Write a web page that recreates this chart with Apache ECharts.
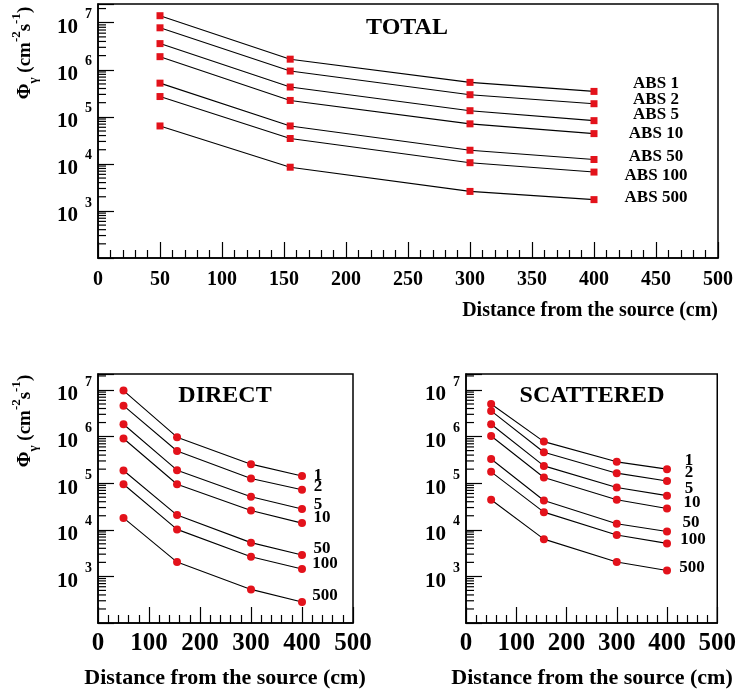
<!DOCTYPE html>
<html><head><meta charset="utf-8">
<script src="https://cdn.jsdelivr.net/npm/echarts@6/dist/echarts.min.js"></script>
<style>html,body{margin:0;padding:0;background:#fff}#c{width:739px;height:691px}</style>
</head><body><div id="c"></div>
<script>
// ---------- data ----------
const distance = [50, 155, 300, 400];
const absNames = ['ABS 1', 'ABS 2', 'ABS 5', 'ABS 10', 'ABS 50', 'ABS 100', 'ABS 500'];
const absShort = ['1', '2', '5', '10', '50', '100', '500'];

const totalABS1   = [1.41e7, 1.68e6, 5.4e5, 3.47e5];
const totalABS2   = [7.8e6, 9.4e5, 2.95e5, 1.9e5];
const totalABS5   = [3.6e6, 4.3e5, 1.35e5, 8.3e4];
const totalABS10  = [1.9e6, 2.23e5, 7.1e4, 4.4e4];
const totalABS50  = [5.2e5, 6.4e4, 1.95e4, 1.24e4];
const totalABS100 = [2.7e5, 3.46e4, 1.06e4, 6.7e3];
const totalABS500 = [6.4e4, 8.5e3, 2.6e3, 1.74e3];

const directABS1   = [9.7e6, 9.7e5, 2.56e5, 1.42e5];
const directABS2   = [4.6e6, 4.9e5, 1.26e5, 7.2e4];
const directABS5   = [1.84e6, 1.9e5, 5.1e4, 2.78e4];
const directABS10  = [9.1e5, 9.5e4, 2.6e4, 1.39e4];
const directABS50  = [1.87e5, 2.07e4, 5.3e3, 2.87e3];
const directABS100 = [9.5e4, 1.02e4, 2.64e3, 1.44e3];
const directABS500 = [1.8e4, 2.03e3, 526, 283];

const scatABS1   = [5.0e6, 7.8e5, 2.87e5, 2.0e5];
const scatABS2   = [3.55e6, 4.6e5, 1.64e5, 1.11e5];
const scatABS5   = [1.84e6, 2.35e5, 8.1e4, 5.4e4];
const scatABS10  = [1.03e6, 1.32e5, 4.4e4, 2.86e4];
const scatABS50  = [3.3e5, 4.25e4, 1.35e4, 9.2e3];
const scatABS100 = [1.75e5, 2.39e4, 7.7e3, 5.1e3];
const scatABS500 = [4.4e4, 6.3e3, 2.03e3, 1.34e3];

const xTicksTop = [0, 50, 100, 150, 200, 250, 300, 350, 400, 450, 500];
const xTicksBottom = [0, 100, 200, 300, 400, 500];

// ---------- layout / style ----------
const FONT = 'Liberation Serif';
const RED = '#e3121b';
const totals = [totalABS1, totalABS2, totalABS5, totalABS10, totalABS50, totalABS100, totalABS500];
const directs = [directABS1, directABS2, directABS5, directABS10, directABS50, directABS100, directABS500];
const scats = [scatABS1, scatABS2, scatABS5, scatABS10, scatABS50, scatABS100, scatABS500];

const topLabelShift = [[62,-8],[62,-4],[62,-6],[62,0],[62,-3],[62,4],[62,-2]];
const dirLabelShift = [[16,0],[16,-3],[16,-4],[20,-6],[20,-6],[23,-5],[23,-6]];
const scaLabelShift = [[22,-9],[22,-8],[22,-7],[25,-6],[24,-9],[26,-4],[25,-3]];

const grids = [
  {left: 98, top: 4, width: 620, height: 254, yMax: 2.5e7},
  {left: 98, top: 374, width: 255, height: 249, yMax: 2.2e7},
  {left: 466, top: 374, width: 252, height: 249, yMax: 2.2e7}
];
const yMin = 100;

function yLabel(v) {
  const l = Math.log10(v), e = Math.round(l);
  if (Math.abs(l - e) > 1e-6 || e < 3 || e > 7) return '';
  return '{b|10}{s|' + e + '}';
}

const xAxes = grids.map((g, i) => {
  const ticks = i === 0 ? xTicksTop : xTicksBottom;
  return {
    type: 'value', gridIndex: i, min: ticks[0], max: ticks[ticks.length - 1],
    interval: ticks[1] - ticks[0],
    axisLine: {show: true, lineStyle: {color: '#000', width: 1.5}},
    axisTick: {show: true, inside: true, length: 16, lineStyle: {color: '#000', width: 1.2}},
    minorTick: {show: true, splitNumber: 5, length: 8, lineStyle: {color: '#000', width: 1.2}},
    splitLine: {show: false},
    axisLabel: {
      color: '#000', fontFamily: FONT, fontWeight: 'bold',
      fontSize: i === 0 ? 20 : 25, margin: i === 0 ? 12 : 8
    }
  };
});

const yAxes = grids.map((g, i) => ({
  type: 'log', logBase: 10, gridIndex: i, min: yMin, max: g.yMax,
  axisLine: {show: true, lineStyle: {color: '#000', width: 1.5}},
  axisTick: {show: true, inside: true, length: 16, lineStyle: {color: '#000', width: 1.2}},
  minorTick: {show: false},
  splitLine: {show: false},
  axisLabel: {
    margin: 6, formatter: yLabel,
    rich: {
      b: {fontSize: 21, fontFamily: FONT, fontWeight: 'bold', color: '#000', lineHeight: 40, padding: [10, 0, 0, 0]},
      s: {fontSize: 14, fontFamily: FONT, fontWeight: 'bold', color: '#000', verticalAlign: 'top', lineHeight: 16, padding: [5, 0, 0, 7]}
    }
  }
}));

// log minor ticks (2..9 x 10^n) drawn through the y axis scale
function minorTickValues(max) {
  const out = [];
  for (let e = 2; e <= 7; e++) for (let m = 2; m <= 9; m++) {
    const v = m * Math.pow(10, e);
    if (v < max) out.push([0, v]);
  }
  return out;
}
const series = [];
grids.forEach((g, i) => {
  series.push({
    type: 'custom', xAxisIndex: i, yAxisIndex: i, silent: true, z: 1,
    data: minorTickValues(g.yMax),
    renderItem: (params, api) => {
      const p = api.coord([0, api.value(1)]);
      return {type: 'line', shape: {x1: p[0], y1: p[1], x2: p[0] + 8, y2: p[1]},
        style: {stroke: '#000', lineWidth: 1.2}};
    }
  });
});

function addGroup(valsList, names, gi, shifts, symbol, size, fontSize) {
  valsList.forEach((vals, k) => {
    const data = distance.map((d, j) => {
      if (j === distance.length - 1) {
        return {value: [d, vals[j]], label: {
          show: true, formatter: names[k], position: 'inside',
          offset: shifts[k], align: 'center', verticalAlign: 'middle',
          color: '#000', fontFamily: FONT, fontWeight: 'bold', fontSize: fontSize
        }};
      }
      return [d, vals[j]];
    });
    series.push({
      type: 'line', xAxisIndex: gi, yAxisIndex: gi, data: data,
      symbol: symbol, symbolSize: size, showSymbol: true,
      itemStyle: {color: RED}, lineStyle: {color: '#000', width: 1.1},
      label: {show: false}, emphasis: {disabled: true}, animation: false, z: 3
    });
  });
}
addGroup(totals, absNames, 0, topLabelShift, 'rect', 7, 17);
addGroup(directs, absShort, 1, dirLabelShift, 'circle', 8, 17);
addGroup(scats, absShort, 2, scaLabelShift, 'circle', 8, 17);

const yTitle = '{a|Φ}{g|γ}{a| (cm}{p|-2}{a|s}{p|-1}{a|)}';
const yTitleRich = {
  a: {fontSize: 19, fontFamily: FONT, fontWeight: 'bold', fill: '#000', lineHeight: 30},
  g: {fontSize: 13, fontFamily: FONT, fontWeight: 'bold', fill: '#000', verticalAlign: 'bottom', lineHeight: 14},
  p: {fontSize: 13, fontFamily: FONT, fontWeight: 'bold', fill: '#000', verticalAlign: 'top', lineHeight: 14}
};
function txt(x, y, text, size, align, extra) {
  return Object.assign({type: 'text', x: x, y: y, silent: true, z: 10,
    style: {text: text, fill: '#000', font: 'bold ' + size + 'px "' + FONT + '"', textAlign: align, textVerticalAlign: 'middle'}}, extra || {});
}

const option = {
  animation: false,
  backgroundColor: '#fff',
  grid: grids.map(g => ({left: g.left, top: g.top, width: g.width, height: g.height,
    show: true, borderColor: '#000', borderWidth: 1.5, backgroundColor: 'transparent', containLabel: false})),
  xAxis: xAxes,
  yAxis: yAxes,
  series: series,
  graphic: [
    txt(407, 28, 'TOTAL', 24, 'center'),
    txt(225, 396, 'DIRECT', 24, 'center'),
    txt(592, 396, 'SCATTERED', 24, 'center'),
    txt(718, 311, 'Distance from the source (cm)', 20, 'right'),
    txt(225, 678, 'Distance from the source (cm)', 22, 'center'),
    txt(592, 678, 'Distance from the source (cm)', 22, 'center'),
    {type: 'text', x: 25, y: 53, rotation: Math.PI / 2, silent: true, z: 10,
      style: {text: yTitle, rich: yTitleRich, textAlign: 'center', textVerticalAlign: 'middle'}},
    {type: 'text', x: 25, y: 421, rotation: Math.PI / 2, silent: true, z: 10,
      style: {text: yTitle, rich: yTitleRich, textAlign: 'center', textVerticalAlign: 'middle'}}
  ]
};
const chart = echarts.init(document.getElementById('c'), null, {renderer: 'canvas'});
chart.setOption(option);
</script></body></html>
